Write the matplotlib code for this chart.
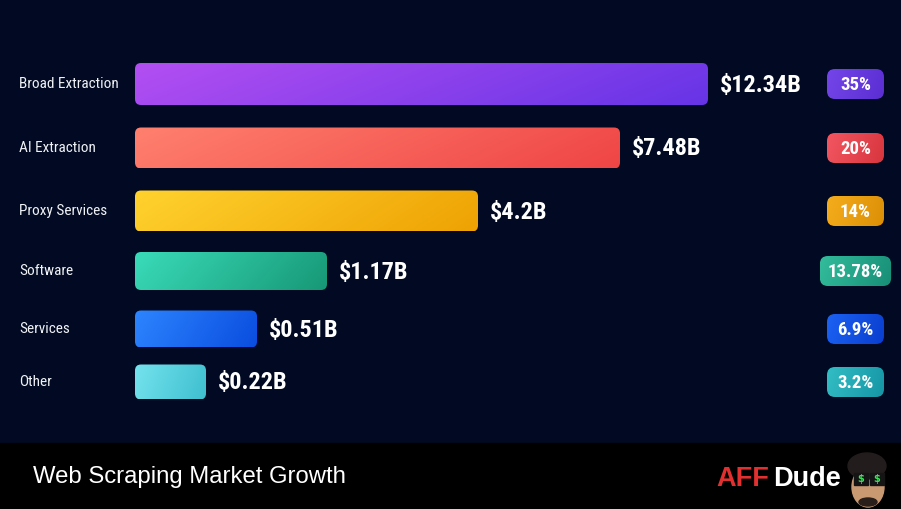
import numpy as np
import matplotlib.pyplot as plt
from matplotlib.patches import FancyBboxPatch, Ellipse, Rectangle
from matplotlib.colors import LinearSegmentedColormap

# --- data ---
categories = ["Broad Extraction", "AI Extraction", "Proxy Services",
              "Software", "Services", "Other"]
market_size = [12.34, 7.48, 4.2, 1.17, 0.51, 0.22]      # $B, printed next to bars
bar_length = [573, 485, 343, 192, 122, 71]              # drawn bar length (px as shown)
share_pct = [35, 20, 14, 13.78, 6.9, 3.2]

# --- layout / style ---
W, H = 901, 509
BG = "#010a22"
row_y = [84, 148, 211, 271, 329, 382]
bar_h = [42, 41, 41, 38, 37, 35]
bar_x0 = 135
pill_cx = 855.5
bar_colors = [("#b34ff2", "#6634e6"),
              ("#ff806e", "#ef4545"),
              ("#ffd22e", "#eea203"),
              ("#3adbb9", "#179876"),
              ("#2d85ff", "#0a4ddf"),
              ("#74e3ee", "#3fbfcf")]
pill_colors = [("#7446ea", "#5a2ed2"),
               ("#f25660", "#d8363f"),
               ("#f5ad1c", "#dc8f06"),
               ("#33bc9c", "#178e76"),
               ("#1c62f3", "#0a3ecf"),
               ("#33bdc4", "#1696a6")]
COND = ["Roboto Condensed", "Roboto", "DejaVu Sans"]

fig = plt.figure(figsize=(W / 100, H / 100), dpi=100, facecolor=BG)
ax = fig.add_axes([0, 0, 1, 1])
ax.set_facecolor(BG)


def gradient_box(x, yc, w, h, c1, c2, r, z=2):
    patch = FancyBboxPatch((x, yc - h / 2), w, h,
                           boxstyle=f"round,pad=0,rounding_size={r}",
                           fc="none", ec="none", zorder=z)
    ax.add_patch(patch)
    cmap = LinearSegmentedColormap.from_list("g", [c1, c2])
    gx = np.linspace(0, 1, 256)
    gy = np.linspace(0, 1, 32)
    grad = gx[None, :] * 0.85 + gy[:, None] * 0.15
    im = ax.imshow(grad, cmap=cmap, vmin=0, vmax=1, aspect="auto",
                   extent=(x, x + w, yc + h / 2, yc - h / 2),
                   interpolation="bilinear", zorder=z)
    im.set_clip_path(patch)
    return patch


renderer = fig.canvas.get_renderer()

for i, cat in enumerate(categories):
    y = row_y[i]
    ax.text(19, y, cat, ha="left", va="center", fontsize=11,
            color="#f0f2f6", family=COND)

    gradient_box(bar_x0, y, bar_length[i], bar_h[i], *bar_colors[i], r=6)

    ax.text(bar_x0 + bar_length[i] + 12, y + 1, f"${market_size[i]:g}B",
            ha="left", va="center", fontsize=17.5, fontweight="bold",
            color="white", family=COND)

    t = ax.text(pill_cx, y + 1, f"{share_pct[i]:g}%", ha="center", va="center",
                fontsize=13.5, fontweight="bold", color="white", zorder=5,
                family=COND)
    tw = t.get_window_extent(renderer).width
    pw = max(57, tw + 16)
    gradient_box(pill_cx - pw / 2, y, pw, 30, *pill_colors[i], r=8, z=3)

# footer band
ax.add_patch(Rectangle((0, 443), W, H - 443, color="black", zorder=1))
ax.text(33, 477, "Web Scraping Market Growth", ha="left", va="center",
        fontsize=17.2, color="white", family=["Liberation Sans", "DejaVu Sans"])
ax.text(716, 479, "AFF", ha="left", va="center", fontsize=19.5, fontweight="bold",
        color="#e1302f", family=["Liberation Sans", "DejaVu Sans"])
ax.text(773, 479, "Dude", ha="left", va="center", fontsize=19.5, fontweight="bold",
        color="white", family=["Liberation Sans", "DejaVu Sans"])

# little cartoon face logo
ax.add_patch(Ellipse((868, 487), 32, 40, color="#c99a72", zorder=3))
ax.add_patch(Ellipse((867, 466), 38, 26, color="#231c1c", zorder=4))
ax.add_patch(Ellipse((868, 502), 18, 8, color="#2a1e1a", zorder=4))
for lx in (861, 877):
    ax.add_patch(Rectangle((lx - 7, 473), 14, 12, color="#151515", zorder=5))
    ax.text(lx, 479.5, "$", ha="center", va="center", fontsize=7,
            fontweight="bold", color="#3ee05a", zorder=6)

ax.set_xlim(0, W)
ax.set_ylim(H, 0)
ax.axis("off")

fig.savefig("out.png", dpi=100, facecolor=BG)
